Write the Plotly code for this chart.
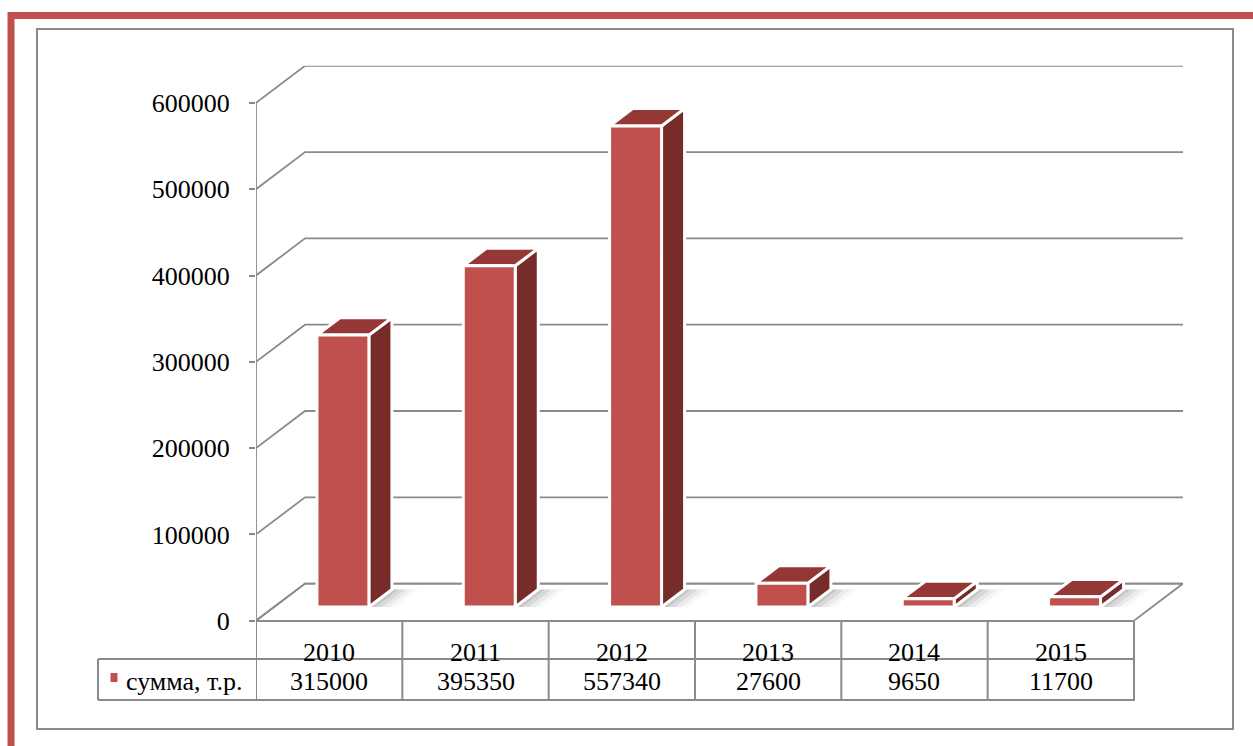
import plotly.graph_objects as go

# ---- data -------------------------------------------------------------
years = ["2010", "2011", "2012", "2013", "2014", "2015"]
amounts = [315000, 395350, 557340, 27600, 9650, 11700]
series_name = "сумма, т.р."
y_ticks = [0, 100000, 200000, 300000, 400000, 500000, 600000]

# ---- page / style constants -----------------------------------------
W, H = 1253, 746
FONT = "Liberation Serif, Times New Roman, serif"
GRID = "#8a8a8a"
RED = "#C0504D"
RED_SIDE = "#772C2A"
RED_TOP = "#953735"

# oblique "3D" projection: depth offset expressed in axis units
DEPTH_X = 0.335          # categories
DEPTH_Y = 43000          # value units
BAR_W = 0.355            # bar width in categories
BAR_C = 0.47             # bar centre inside its category slot
D0, D1 = 0.37, 0.84      # bar front / back as fraction of depth
PX_PER_CAT = 146.33
PX_PER_UNIT = 0.000863

n = len(years)
y_top = 600000 + DEPTH_Y


def py(p):
    """pixel row -> paper fraction"""
    return (H - p) / H


def px(p):
    return p / W


fig = go.Figure()

# back wall gridlines: front axis -> back wall -> right end
for v in y_ticks:
    fig.add_trace(go.Scatter(
        x=[0, DEPTH_X, n + DEPTH_X], y=[v, v + DEPTH_Y, v + DEPTH_Y],
        mode="lines", line=dict(color=GRID, width=1.8),
        hoverinfo="skip", showlegend=False))

# floor outline
fig.add_trace(go.Scatter(
    x=[0, DEPTH_X, n + DEPTH_X, n], y=[0, DEPTH_Y, DEPTH_Y, 0],
    mode="lines", line=dict(color=GRID, width=1.8),
    hoverinfo="skip", showlegend=False))


def poly(xs, ys, color, width=3):
    fig.add_trace(go.Scatter(
        x=xs + [xs[0]], y=ys + [ys[0]], mode="lines", fill="toself",
        fillcolor=color, line=dict(color="white", width=width),
        hoverinfo="skip", showlegend=False))


# soft floor shadows to the right of each column
for i, v in enumerate(amounts):
    xl = i + BAR_C - BAR_W / 2
    xr = xl + BAR_W
    for k, a in enumerate([0.09, 0.07, 0.05, 0.03]):
        s = 0.045 * (k + 1)
        fig.add_trace(go.Scatter(
            x=[xr + D0 * DEPTH_X, xr + D1 * DEPTH_X, xr + D1 * DEPTH_X + s,
               xr + D0 * DEPTH_X + s, xr + D0 * DEPTH_X],
            y=[D0 * DEPTH_Y, D1 * DEPTH_Y, D1 * DEPTH_Y, D0 * DEPTH_Y, D0 * DEPTH_Y],
            mode="lines", fill="toself", fillcolor=f"rgba(0,0,0,{a})",
            line=dict(width=0), hoverinfo="skip", showlegend=False))

# columns
for i, v in enumerate(amounts):
    xl = i + BAR_C - BAR_W / 2
    xr = xl + BAR_W
    fx0, fy0 = D0 * DEPTH_X, D0 * DEPTH_Y
    fx1, fy1 = D1 * DEPTH_X, D1 * DEPTH_Y
    # side face
    poly([xr + fx0, xr + fx1, xr + fx1, xr + fx0],
         [fy0, fy1, fy1 + v, fy0 + v], RED_SIDE)
    # top face
    poly([xl + fx0, xr + fx0, xr + fx1, xl + fx1],
         [fy0 + v, fy0 + v, fy1 + v, fy1 + v], RED_TOP)
    # front face
    poly([xl + fx0, xr + fx0, xr + fx0, xl + fx0],
         [fy0, fy0, fy0 + v, fy0 + v], RED)

shapes = []
# front value axis line (continues through the data table)
shapes.append(dict(type="line", xref="x", yref="y", x0=0, x1=0, y0=0, y1=600000,
                   line=dict(color=GRID, width=1.8)))

# data table grid
t_top, t_mid, t_bot = py(621), py(659), py(700)
shapes.append(dict(type="line", xref="x", yref="paper", x0=0, x1=n, y0=t_top, y1=t_top,
                   line=dict(color=GRID, width=2)))
for yy in (t_mid, t_bot):
    shapes.append(dict(type="line", xref="paper", yref="paper", x0=px(98), x1=px(1135),
                       y0=yy, y1=yy, line=dict(color=GRID, width=2)))
for i in range(n + 1):
    shapes.append(dict(type="line", xref="x", yref="paper", x0=i, x1=i, y0=t_top, y1=t_bot,
                       line=dict(color=GRID, width=2)))
shapes.append(dict(type="line", xref="paper", yref="paper", x0=px(98), x1=px(98),
                   y0=t_mid, y1=t_bot, line=dict(color=GRID, width=2)))
# legend key in the table
shapes.append(dict(type="rect", xref="paper", yref="paper",
                   x0=px(110.5), x1=px(117.5), y0=py(682), y1=py(673),
                   fillcolor=RED, line=dict(width=0)))

# chart area border and page accent border
shapes.append(dict(type="rect", xref="paper", yref="paper",
                   x0=px(37), x1=px(1233), y0=py(729), y1=py(29),
                   line=dict(color="#8a8a8a", width=2)))
shapes.append(dict(type="line", xref="paper", yref="paper", x0=px(8), x1=1,
                   y0=py(15.5), y1=py(15.5), line=dict(color=RED, width=7)))
shapes.append(dict(type="line", xref="paper", yref="paper", x0=px(11), x1=px(11),
                   y0=0, y1=py(12), line=dict(color=RED, width=7)))

annotations = []
for i, (yr, v) in enumerate(zip(years, amounts)):
    annotations.append(dict(x=i + 0.5, y=py(652), xref="x", yref="paper", text=yr,
                            showarrow=False, xanchor="center", yanchor="middle",
                            font=dict(family=FONT, size=26, color="black")))
    annotations.append(dict(x=i + 0.5, y=py(681), xref="x", yref="paper", text=str(v),
                            showarrow=False, xanchor="center", yanchor="middle",
                            font=dict(family=FONT, size=26, color="black")))
annotations.append(dict(x=px(124), y=py(681), xref="paper", yref="paper", text=series_name,
                        showarrow=False, xanchor="left", yanchor="middle",
                        font=dict(family=FONT, size=26, color="black")))

fig.update_layout(
    width=W, height=H, autosize=False,
    margin=dict(l=0, r=0, t=0, b=0, pad=0, autoexpand=False),
    paper_bgcolor="white", plot_bgcolor="rgba(0,0,0,0)",
    showlegend=False, shapes=shapes, annotations=annotations,
    xaxis=dict(domain=[px(256), px(256 + (n + DEPTH_X) * PX_PER_CAT)],
               range=[0, n + DEPTH_X], showgrid=False, zeroline=False,
               showticklabels=False, ticks="", showline=False, fixedrange=True,
               automargin=False),
    yaxis=dict(domain=[py(620.7), py(620.7 - y_top * PX_PER_UNIT)],
               range=[0, y_top], tickvals=y_ticks, ticktext=[str(t) for t in y_ticks],
               showgrid=False, zeroline=False, showline=False,
               ticks="outside", ticklen=6, tickwidth=2, tickcolor=GRID,
               ticklabelstandoff=14, automargin=False,
               tickfont=dict(family=FONT, size=26, color="black"), fixedrange=True),
)

fig.write_html("out.html")
